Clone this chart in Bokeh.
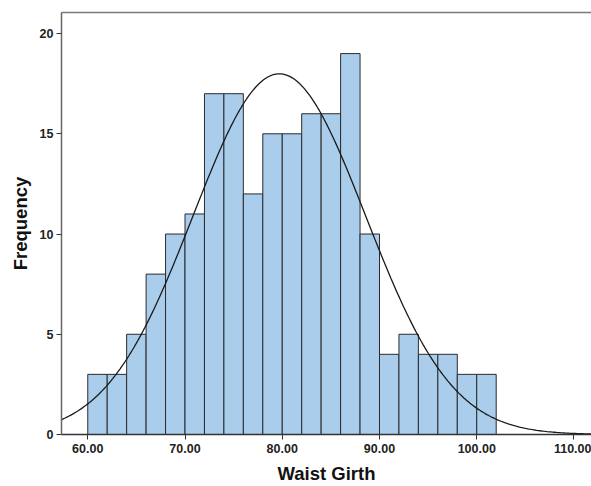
import numpy as np
from bokeh.plotting import figure
from bokeh.models import Range1d, FixedTicker, CustomJSTickFormatter, LinearAxis
from bokeh.embed import file_html
from bokeh.resources import INLINE

# Histogram data (bin edges of width 2)
bin_left = [60, 62, 64, 66, 68, 70, 72, 74, 76, 78, 80, 82, 84, 86, 88, 90, 92, 94, 96, 98, 100]
counts = [3, 3, 5, 8, 10, 11, 17, 17, 12, 15, 15, 16, 16, 19, 10, 4, 5, 4, 4, 3, 3]
bin_width = 2
x_ticks = [60, 70, 80, 90, 100, 110]
y_ticks = [0, 5, 10, 15, 20]

# Fitted normal curve parameters
MEAN = 79.7
SD = 8.87
N = sum(counts)

p = figure(width=591, height=486, output_backend="svg", toolbar_location=None,
           x_range=Range1d(57.3, 111.8), y_range=Range1d(0, 21.05),
           min_border_left=61, min_border_right=0, min_border_top=12, min_border_bottom=52)

p.quad(left=bin_left, right=[b + bin_width for b in bin_left], bottom=0, top=counts,
       fill_color="#A9CDEB", line_color="#2b2b2b", line_width=1)

xs = np.linspace(57.3, 111.8, 300)
ys = N * bin_width / (SD * np.sqrt(2 * np.pi)) * np.exp(-0.5 * ((xs - MEAN) / SD) ** 2)
p.line(xs, ys, line_color="#1a1a1a", line_width=1.3)

p.xgrid.visible = False
p.ygrid.visible = False
p.outline_line_color = None

xax = p.below[0]
yax = p.left[0]

for ax in (xax, yax):
    ax.major_tick_in = 0
    ax.major_tick_out = 5
    ax.minor_tick_line_color = None
    ax.major_label_text_font = "Liberation Sans"
    ax.major_label_text_font_style = "bold"
    ax.major_label_text_font_size = "12.5px"
    ax.major_label_text_color = "#222222"
    ax.axis_label_text_font = "Liberation Sans"
    ax.axis_label_text_font_style = "bold"
    ax.axis_label_text_color = "#111111"
    ax.major_tick_line_color = "#333333"

xax.ticker = FixedTicker(ticks=x_ticks)
yax.ticker = FixedTicker(ticks=y_ticks)
xax.formatter = CustomJSTickFormatter(code="return tick.toFixed(2);")
xax.axis_label = "Waist Girth"
yax.axis_label = "Frequency"
xax.axis_label_text_font_size = "18.5px"
yax.axis_label_text_font_size = "18.5px"
xax.axis_line_color = "#333333"
yax.axis_line_color = "#666666"
xax.axis_line_width = 1.5
yax.axis_line_width = 1.5
xax.major_label_standoff = 4
yax.major_label_standoff = 3
xax.axis_label_standoff = 7
yax.axis_label_standoff = 6

# top border as a bare axis
top = LinearAxis(ticker=FixedTicker(ticks=[]), major_label_text_font_size="0px",
                 axis_line_color="#7a7a7a", axis_line_width=1.5,
                 major_tick_line_color=None, minor_tick_line_color=None,
                 major_label_standoff=0, axis_label_standoff=0)
p.add_layout(top, "above")

open("out.html", "w").write(file_html(p, INLINE))
